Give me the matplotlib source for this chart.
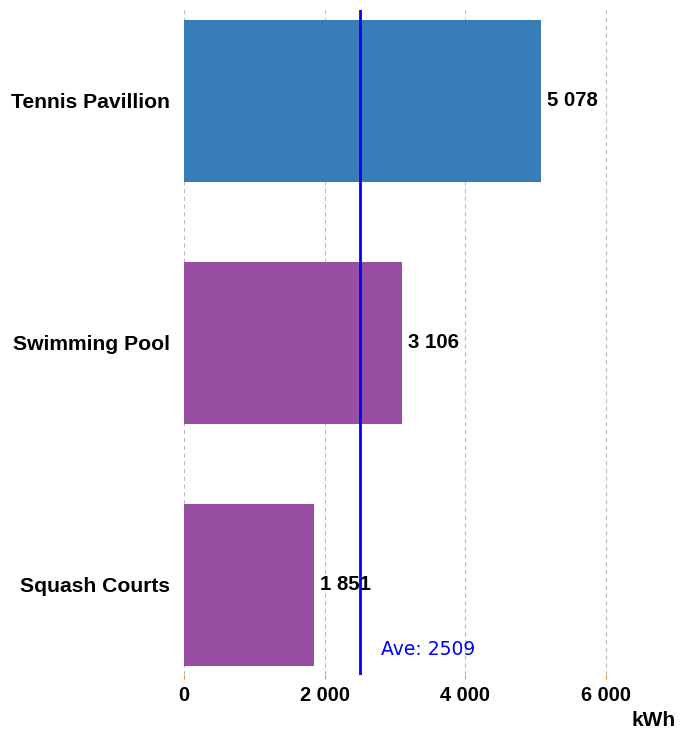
import matplotlib
matplotlib.use('Agg')
import matplotlib.pyplot as plt

categories = ['Tennis Pavillion', 'Swimming Pool', 'Squash Courts']
values = [5078, 3106, 1851]
colors = ['#377EB8', '#984EA3', '#984EA3']
average = 2509
xticks = [0, 2000, 4000, 6000]

plt.rcParams['font.family'] = ['Liberation Sans', 'DejaVu Sans']

fig = plt.figure(figsize=(6.92, 7.32), dpi=100)
ax = fig.add_axes([184/692, 1 - 675/732, (676 - 184)/692, (675 - 10)/732])

pos = list(range(len(categories)))
ax.barh(pos, values, height=0.67, color=colors, zorder=2)
for p, v in zip(pos, values):
    ax.text(v + 80, p, f'{v:,}'.replace(',', ' '), va='center', ha='left',
            fontsize=14.7, fontweight='bold', color='black', zorder=4)

ax.axvline(average, color='#0000FF', lw=2, zorder=3)
ax.text(average + 295, 2.265, f'Ave: {average}', color='#0000FF', fontsize=13.5,
        family='DejaVu Sans', va='center', ha='left')

ax.set_xlim(0, 7000)
ax.set_ylim(2.372, -0.376)
ax.set_yticks(pos)
ax.set_yticklabels(categories, fontsize=15.2, fontweight='bold')
ax.set_xticks(xticks)
ax.set_xticklabels([f'{t:,}'.replace(',', ' ') for t in xticks], fontsize=14.4, fontweight='bold')
ax.tick_params(axis='y', length=0, pad=10)
ax.tick_params(axis='x', length=3, color='#FF8C00', pad=5)
ax.grid(axis='x', color='#BBBBBB', linestyle=(0, (4, 3)), lw=0.8, zorder=0)
for s in ax.spines.values():
    s.set_visible(False)

fig.text(654/692, 1 - 720/732, 'kWh', fontsize=15, fontweight='bold', ha='center', va='center')

fig.savefig('out.png', dpi=100)
